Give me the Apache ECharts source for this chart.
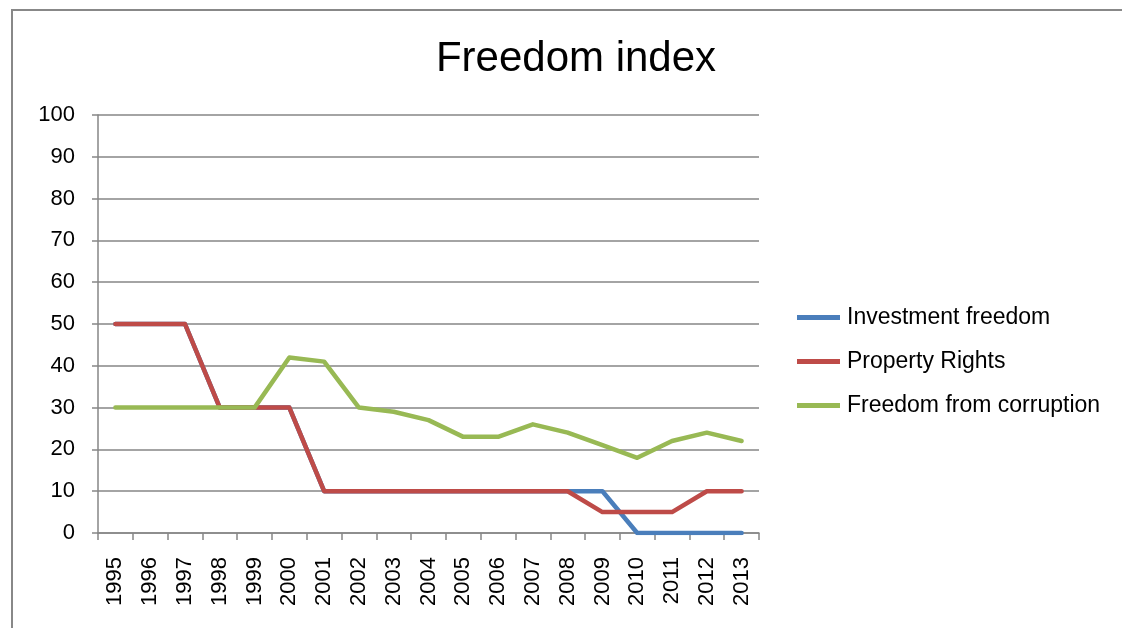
<!DOCTYPE html>
<html><head><meta charset="utf-8">
<script src="https://cdn.jsdelivr.net/npm/echarts@6/dist/echarts.min.js"></script>
<style>html,body{margin:0;padding:0;background:#fff}#c{width:1122px;height:628px}</style>
</head><body><div id="c"></div>
<script>
const years = ['1995','1996','1997','1998','1999','2000','2001','2002','2003','2004','2005','2006','2007','2008','2009','2010','2011','2012','2013'];
const investmentFreedom = [50,50,50,30,30,30,10,10,10,10,10,10,10,10,10,0,0,0,0];
const propertyRights = [50,50,50,30,30,30,10,10,10,10,10,10,10,10,5,5,5,10,10];
const freedomFromCorruption = [30,30,30,30,30,42,41,30,29,27,23,23,26,24,21,18,22,24,22];
const yTicks = [0,10,20,30,40,50,60,70,80,90,100];

const chart = echarts.init(document.getElementById('c'));
const font = "'Liberation Sans', Arial, sans-serif";
function mk(name, data, color){
  return {name, type:'line', data, symbol:'none', smooth:false,
    lineStyle:{width:4.5, color, cap:'round', join:'round'}, itemStyle:{color}};
}
chart.setOption({
  animation:false,
  graphic:[{type:'rect', shape:{x:12,y:10,width:1200,height:700}, style:{fill:'none', stroke:'#888', lineWidth:2}}],
  title:{text:'Freedom index', left:571, top:33, textAlign:'center',
    textStyle:{fontFamily:font, fontSize:42, fontWeight:'normal', color:'#000'}},
  grid:{left:98, top:115, width:661, height:418, containLabel:false},
  legend:{orient:'vertical', left:792, top:301, itemWidth:43, itemHeight:5, itemGap:21,
    icon:'rect',
    textStyle:{fontFamily:font, fontSize:23, color:'#000', padding:[0,0,0,2]},
    data:['Investment freedom','Property Rights','Freedom from corruption']},
  xAxis:{type:'category', data:years, boundaryGap:true,
    axisLine:{lineStyle:{color:'#868686', width:1.5}},
    axisTick:{show:true, length:7, alignWithLabel:false, lineStyle:{color:'#868686', width:1.5}},
    axisLabel:{rotate:90, fontFamily:font, fontSize:22, color:'#000', margin:24, interval:0}},
  yAxis:{type:'value', min:0, max:100, interval:10,
    axisLine:{show:true, lineStyle:{color:'#868686', width:1.5}},
    axisTick:{show:true, length:6, inside:false, lineStyle:{color:'#868686', width:1.5}},
    splitLine:{lineStyle:{color:'#868686', width:1.5}},
    axisLabel:{fontFamily:font, fontSize:22, color:'#000', margin:23}},
  series:[
    mk('Investment freedom', investmentFreedom, '#4a7ebb'),
    mk('Property Rights', propertyRights, '#be4b48'),
    mk('Freedom from corruption', freedomFromCorruption, '#98b954')
  ]
});
</script></body></html>
